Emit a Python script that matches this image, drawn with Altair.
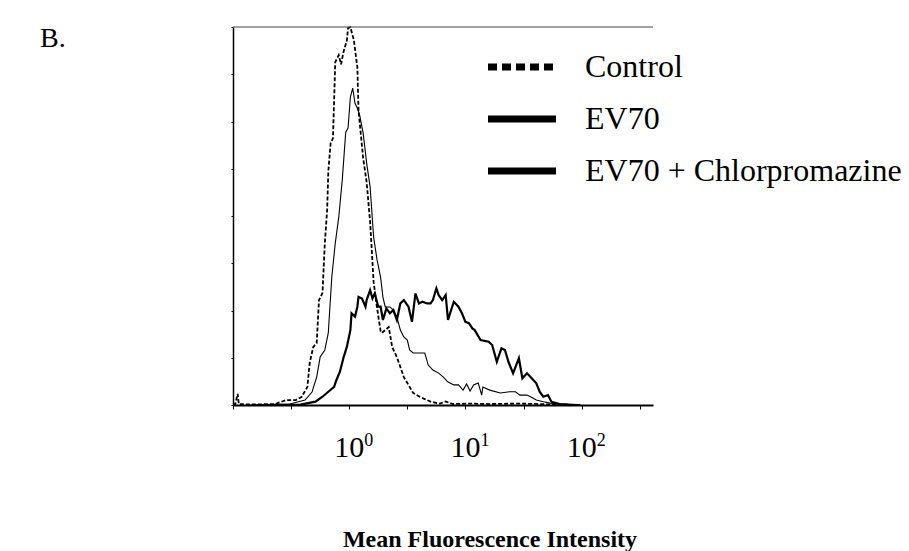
import altair as alt
import pandas as pd

# ---- data (x = log10 of MFI, y = cell counts, arbitrary units) ----
control_log_mfi = [-1.00, -0.98, -0.96, -0.95, -0.85, -0.64, -0.54, -0.46, -0.41, -0.36, -0.34, -0.31,
                   -0.28, -0.26, -0.23, -0.21, -0.19, -0.18, -0.16, -0.14, -0.12, -0.09, -0.07, -0.05,
                   -0.02, -0.01, 0.01, 0.04, 0.07, 0.08, 0.12, 0.15, 0.18, 0.21, 0.24, 0.27, 0.28, 0.31,
                   0.34, 0.37, 0.41, 0.44, 0.47, 0.51, 0.55, 0.61, 0.70, 0.78, 0.83, 0.89, 1.04, 1.21,
                   1.47, 1.77, 1.99]
control_counts = [0.4, 0.4, 4.7, 0.4, 0.2, 0.4, 2.1, 2.1, 3.4, 7.6, 17.8, 24.5,
                  26.2, 44.4, 47.4, 68.5, 82.5, 98.6, 110.8, 112.9, 145.1, 148.1, 144.2, 149.3,
                  154.4, 159.5, 159.9, 154.4, 143.0, 124.8, 104.5, 94.3, 77.4, 52.0, 41.0, 31.3, 30.5, 31.7,
                  33.0, 24.5, 20.3, 16.1, 11.8, 8.5, 5.1, 3.4, 1.4, 0.6, 1.5, 0.4, 0.6, 0.4,
                  0.6, 0.2, 0.0]

ev70_log_mfi = [-0.68, -0.42, -0.29, -0.23, -0.18, -0.13, -0.11, -0.08, -0.05, -0.02, 0.01, 0.02,
                0.05, 0.07, 0.08, 0.11, 0.14, 0.15, 0.18, 0.20, 0.22, 0.25, 0.27, 0.29, 0.32, 0.35,
                0.38, 0.41, 0.44, 0.47, 0.51, 0.54, 0.57, 0.60, 0.63, 0.67, 0.70, 0.72, 0.75, 0.77,
                0.80, 0.83, 0.85, 0.90, 0.94, 0.97, 1.00, 1.03, 1.06, 1.08, 1.13, 1.20, 1.23, 1.27,
                1.31, 1.34, 1.37, 1.41, 1.46, 1.49, 1.53, 1.57, 1.61, 1.64, 1.67, 1.71, 1.74, 1.81, 1.96]
ev70_counts = [0.0, 0.2, 1.4, 3.5, 5.6, 7.7, 10.6, 14.1, 19.9, 24.7, 31.7, 38.8,
               37.4, 41.6, 45.8, 45.1, 41.6, 44.4, 48.6, 45.1, 47.2, 41.6, 41.6, 36.0, 40.9, 38.8,
               40.2, 36.0, 43.0, 44.4, 41.6, 35.2, 47.2, 43.0, 43.7, 43.0, 43.0, 44.4, 49.4, 46.5,
               44.4, 46.5, 36.0, 43.7, 41.6, 38.8, 35.2, 34.6, 32.4, 31.7, 27.5, 26.8, 25.4, 18.3,
               24.0, 23.3, 18.3, 13.4, 19.8, 11.3, 13.4, 11.3, 9.2, 5.5, 3.5, 4.2, 1.4, 0.4, 0.0]

cpz_log_mfi = [-0.85, -0.51, -0.38, -0.32, -0.28, -0.25, -0.21, -0.18, -0.15, -0.12, -0.09, -0.06,
               -0.03, -0.01, 0.01, 0.03, 0.05, 0.07, 0.09, 0.12, 0.15, 0.18, 0.21, 0.24, 0.27, 0.29,
               0.31, 0.35, 0.38, 0.41, 0.44, 0.47, 0.50, 0.52, 0.55, 0.65, 0.68, 0.72, 0.77, 0.81,
               0.85, 0.90, 0.94, 0.98, 1.01, 1.04, 1.07, 1.11, 1.14, 1.15, 1.21, 1.30, 1.38, 1.43,
               1.47, 1.53, 1.56, 1.61, 1.67, 1.73, 1.81, 1.99]
cpz_counts = [0.0, 0.4, 2.1, 5.5, 11.8, 20.3, 23.3, 30.5, 54.1, 68.5, 79.5, 95.2,
              115.5, 117.2, 130.3, 134.1, 127.7, 125.6, 122.7, 115.1, 102.4, 92.2, 71.1, 61.3, 54.1, 45.7,
              41.5, 41.5, 40.2, 37.2, 31.7, 28.8, 27.5, 23.3, 22.0, 22.0, 16.9, 14.8, 13.5, 11.8,
              9.7, 8.5, 8.5, 6.3, 8.9, 5.9, 8.5, 9.3, 4.2, 7.6, 6.3, 5.1, 5.6, 5.6,
              4.2, 4.2, 3.5, 2.1, 1.4, 0.8, 0.4, 0.0]

x_ticks = [-1.0, -0.5, 0.0, 0.5, 1.0, 1.5, 2.0, 2.5]
y_ticks = [0, 20, 40, 60, 80, 100, 120, 140, 160]
label_decades = [0, 1, 2]
label_base = ["10", "10", "10"]
label_exp = ["0", "1", "2"]
legend_labels = ["Control", "EV70", "EV70 + Chlorpromazine"]
axis_title = "Mean Fluorescence Intensity"
panel_label = "B."

W, H = 420, 378
SERIF = "Liberation Serif"


def series_df(xs, ys):
    return pd.DataFrame({"lx": xs, "count": ys, "i": range(len(xs))})


x_scale = alt.Scale(domain=[-1.0, 2.614], nice=False, zero=False)
x_axis = alt.Axis(values=x_ticks, labels=False, title=None, grid=False,
                  tickSize=4, tickWidth=1, tickColor="black",
                  domainColor="black", domainWidth=2)
x_enc = alt.X("lx:Q", scale=x_scale, axis=x_axis)
y_enc = alt.Y("count:Q",
              scale=alt.Scale(domain=[0, 160], nice=False, zero=True),
              axis=alt.Axis(values=y_ticks, labels=False, title=None, grid=False,
                            tickSize=2, tickWidth=1, tickColor="black",
                            domainColor="black", domainWidth=1.5))

control = alt.Chart(series_df(control_log_mfi, control_counts)).mark_line(
    color="black", strokeWidth=1.8, strokeDash=[4, 2]
).encode(x=x_enc, y=y_enc, order="i:Q")

cpz = alt.Chart(series_df(cpz_log_mfi, cpz_counts)).mark_line(
    color="black", strokeWidth=1.1
).encode(x=x_enc, y=y_enc, order="i:Q")

ev70 = alt.Chart(series_df(ev70_log_mfi, ev70_counts)).mark_line(
    color="black", strokeWidth=2.2
).encode(x=x_enc, y=y_enc, order="i:Q")

top_line = alt.Chart(pd.DataFrame({"a": [0]})).mark_rule(color="#444", strokeWidth=1).encode(
    x=alt.value(0), x2=alt.value(W), y=alt.value(0))

lab_df = pd.DataFrame({"lx": label_decades, "base": label_base, "exp": label_exp})
tick_base = alt.Chart(lab_df).mark_text(
    font=SERIF, fontSize=30, align="center", baseline="alphabetic", color="black"
).encode(x=x_enc, y=alt.value(430), text="base:N")
tick_exp = alt.Chart(lab_df).mark_text(
    font=SERIF, fontSize=18, align="left", baseline="alphabetic", dx=15, color="black"
).encode(x=x_enc, y=alt.value(419), text="exp:N")

title_txt = alt.Chart(pd.DataFrame({"t": [axis_title]})).mark_text(
    font=SERIF, fontSize=24, fontWeight="bold", align="center", baseline="alphabetic", color="black"
).encode(x=alt.value(257), y=alt.value(520), text="t:N")

panel_txt = alt.Chart(pd.DataFrame({"t": [panel_label]})).mark_text(
    font=SERIF, fontSize=28, align="left", baseline="alphabetic", color="black"
).encode(x=alt.value(-193), y=alt.value(20), text="t:N")

leg_y = [40, 92, 144]
leg_layers = []
leg_styles = [dict(strokeDash=[9, 5]), dict(), dict()]
for k, lab in enumerate(legend_labels):
    leg_layers.append(
        alt.Chart(pd.DataFrame({"a": [0]})).mark_rule(
            color="black", strokeWidth=7, strokeCap="butt", **leg_styles[k]
        ).encode(x=alt.value(255), x2=alt.value(323), y=alt.value(leg_y[k]))
    )
    leg_layers.append(
        alt.Chart(pd.DataFrame({"t": [lab]})).mark_text(
            font=SERIF, fontSize=32, align="left", baseline="middle", color="black"
        ).encode(x=alt.value(352), y=alt.value(leg_y[k]), text="t:N")
    )

chart = alt.layer(
    control, cpz, ev70, top_line, tick_base, tick_exp, title_txt, panel_txt, *leg_layers
).properties(
    width=W, height=H,
    padding={"left": 233, "top": 27, "right": 256, "bottom": 146},
    autosize=alt.AutoSizeParams(type="none"),
    background="white",
).configure_view(stroke=None)

chart.save("out.html", embed_options={"renderer": "svg", "actions": False})
